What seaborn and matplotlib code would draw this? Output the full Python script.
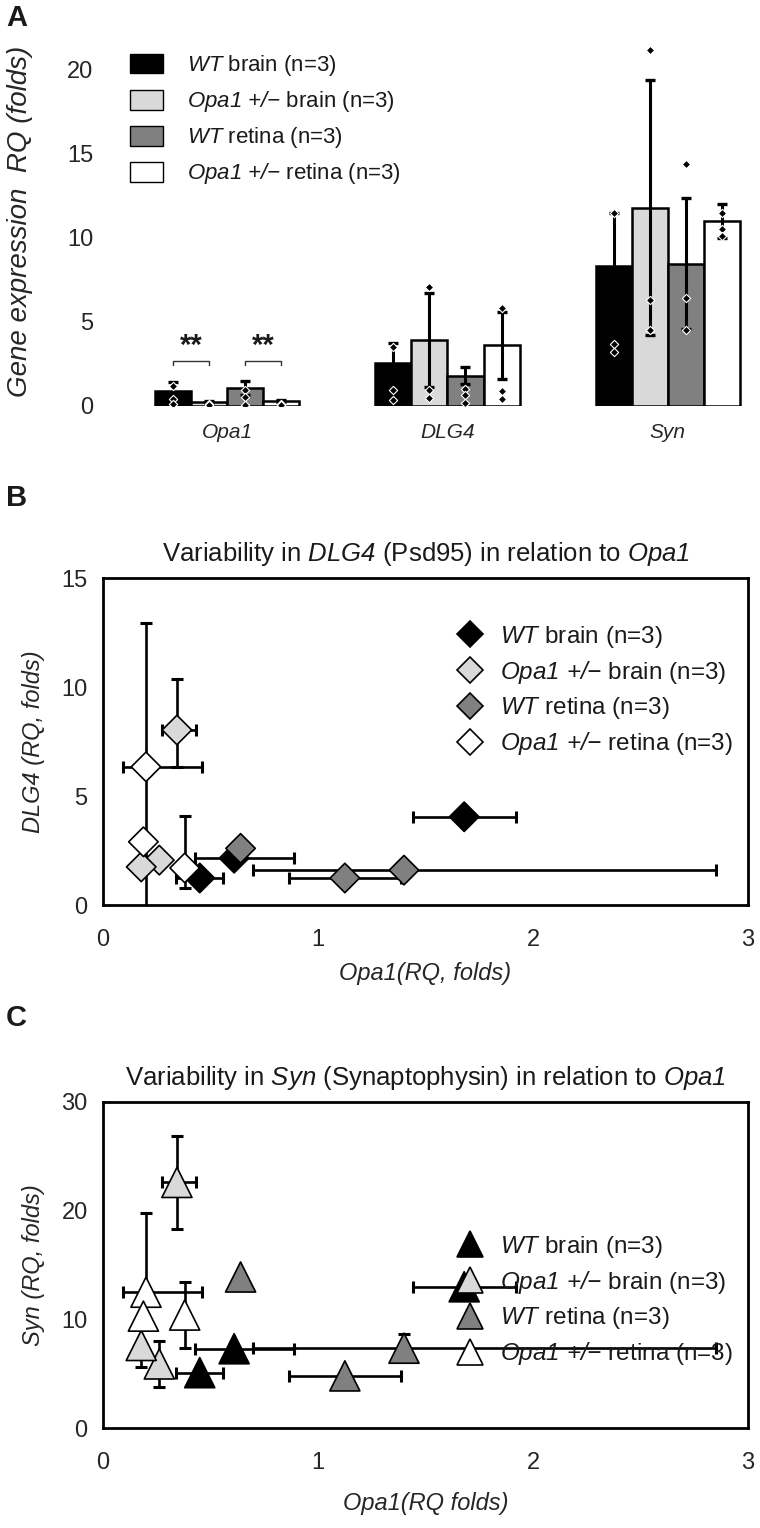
import numpy as np
import pandas as pd
import matplotlib
matplotlib.use("Agg")
import matplotlib.pyplot as plt
import seaborn as sns

# ---- data ----
genes = ["Opa1", "DLG4", "Syn"]
groups = ["WT brain", "Opa1 +/- brain", "WT retina", "Opa1 +/- retina"]
colors = ["#000000", "#d9d9d9", "#808080", "#ffffff"]
legend_labels = [r"$WT$ brain (n=3)", r"$Opa1\ {+}/{-}$ brain (n=3)",
                 r"$WT$ retina (n=3)", r"$Opa1\ {+}/{-}$ retina (n=3)"]

# panel A: mean and sd per group (Opa1, DLG4, Syn)
mean_wt_brain = [0.9, 2.55, 8.3]
mean_het_brain = [0.25, 3.9, 11.8]
mean_wt_retina = [1.07, 1.8, 8.45]
mean_het_retina = [0.3, 3.6, 11.0]
sd_wt_brain = [0.5, 1.2, 3.2]
sd_het_brain = [0.05, 2.8, 7.6]
sd_wt_retina = [0.4, 0.5, 3.9]
sd_het_retina = [0.05, 2.0, 1.0]
# individual animals shown as small diamonds
pts_wt_brain = [[1.2, 0.4, 0.1], [3.5, 0.95, 0.36], [11.5, 3.7, 3.2]]
pts_het_brain = [[0.1, 0.05, 0.05], [7.1, 0.95, 0.47], [21.2, 6.3, 4.5]]
pts_wt_retina = [[0.95, 0.55, 0.05], [1.0, 0.65, 0.18], [14.4, 6.4, 4.5]]
pts_het_retina = [[0.1, 0.05, 0.05], [5.8, 0.9, 0.4], [11.5, 10.5, 10.1]]

# panels B/C: per animal (WT brain x3, Opa1+/- brain x3, WT retina x3, Opa1+/- retina x3)
opa1_rq = [1.68, 0.61, 0.45, 0.344, 0.262, 0.178, 1.40, 1.125, 0.64, 0.20, 0.188, 0.38]
opa1_err_lo = [0.24, 0.18, 0.11, 0.07, 0, 0, 0.70, 0.26, 0, 0.107, 0, 0]
opa1_err_hi = [0.24, 0.28, 0.11, 0.09, 0, 0, 1.45, 0.26, 0, 0.26, 0, 0]
dlg4_rq = [4.05, 2.15, 1.24, 8.03, 2.06, 1.75, 1.6, 1.24, 2.6, 6.34, 2.9, 1.7]
dlg4_err_lo = [0, 0, 0, 1.7, 0, 0, 0, 0, 0, 6.6, 0, 0.9]
dlg4_err_hi = [0, 0, 0, 2.34, 0, 0, 0, 0, 0, 6.6, 0, 2.4]
syn_rq = [13.0, 7.3, 5.1, 22.6, 5.9, 7.6, 7.35, 4.8, 13.9, 12.5, 10.3, 10.4]
syn_err_lo = [0, 0, 0, 4.3, 2.1, 2.0, 0, 0, 0, 0, 0, 3.0]
syn_err_hi = [0, 0, 0, 4.3, 2.1, 0, 1.3, 0, 0, 7.3, 0, 3.0]

sns.set_style("white")
plt.rcParams["font.family"] = ["Liberation Sans", "DejaVu Sans"]
plt.rcParams["mathtext.fontset"] = "custom"
plt.rcParams["mathtext.rm"] = "Liberation Sans:italic"
plt.rcParams["mathtext.it"] = "Liberation Sans:italic"
plt.rcParams["text.color"] = "#1a1a1a"

fig = plt.figure(figsize=(7.6, 15.28), dpi=100)

# ---------------- panel A ----------------
axA = fig.add_axes([0.125, 0.7343, 0.855, 0.2421])
means = [mean_wt_brain, mean_het_brain, mean_wt_retina, mean_het_retina]
sds = [sd_wt_brain, sd_het_brain, sd_wt_retina, sd_het_retina]
pts = [pts_wt_brain, pts_het_brain, pts_wt_retina, pts_het_retina]
bar_df = pd.DataFrame({
    "gene": np.tile(genes, 4),
    "group": np.repeat(groups, 3),
    "mean": np.concatenate(means),
})
sns.barplot(data=bar_df, x="gene", y="mean", hue="group", hue_order=groups,
            palette=colors, saturation=1, width=0.655, edgecolor="black",
            linewidth=1.8, errorbar=None, ax=axA)
bars = list(axA.containers)
for i, cont in enumerate(bars):
    xs = [b.get_x() + b.get_width() / 2 for b in cont]
    axA.errorbar(xs, means[i], yerr=sds[i], fmt="none", ecolor="black",
                 elinewidth=2.2, capsize=3.5, capthick=2.4, zorder=3)
    for x, p in zip(xs, pts[i]):
        axA.scatter([x] * len(p), p, marker="D", s=18, c="black",
                    edgecolors="white", linewidths=0.8, zorder=4)

# significance brackets over Opa1
for a, b in [(0, 1), (2, 3)]:
    x1 = bars[a][0].get_x() + bars[a][0].get_width() / 2
    x2 = bars[b][0].get_x() + bars[b][0].get_width() / 2
    axA.plot([x1, x1, x2, x2], [2.45, 2.7, 2.7, 2.45], color="#333333", lw=1.0)
    axA.text((x1 + x2) / 2, 2.75, "**", ha="center", va="bottom",
             fontsize=21, fontweight="bold")

axA.set_xlim(-0.6, 2.35)
axA.set_ylim(0, 22)
axA.set_yticks([0, 5, 10, 15, 20])
axA.tick_params(axis="y", length=0, pad=1, labelsize=17)
axA.tick_params(axis="x", length=0, pad=12, labelsize=15)
for t in axA.get_xticklabels():
    t.set_fontstyle("italic")
for s in axA.spines.values():
    s.set_visible(False)
axA.set_xlabel("")
axA.set_ylabel("Gene expression  RQ (folds)", fontsize=20, fontstyle="italic")
axA.yaxis.set_label_coords(-0.095, 0.5)
sns.move_legend(axA, "upper left", bbox_to_anchor=(0.04, 0.978),
                frameon=False, labels=legend_labels, fontsize=16,
                handlelength=1.5, handleheight=1.0, labelspacing=0.5,
                handletextpad=1.08, borderaxespad=0, title=None)
for h in axA.get_legend().legend_handles:
    h.set_linewidth(1.0)

# ---------------- panels B and C ----------------
sc_df = pd.DataFrame({
    "group": np.repeat(groups, 3),
    "opa1": opa1_rq, "dlg4": dlg4_rq, "syn": syn_rq,
})


def scatter_panel(ax, ycol, ylo, yhi, marker, size, ylim, yticks, title,
                  ylabel, xlabel, leg_y, xlab_y):
    ax.errorbar(sc_df["opa1"], sc_df[ycol], xerr=[opa1_err_lo, opa1_err_hi],
                yerr=[ylo, yhi], fmt="none", ecolor="black", elinewidth=1.9,
                capsize=4.5, capthick=2.2, zorder=1)
    sns.scatterplot(data=sc_df, x="opa1", y=ycol, hue="group", hue_order=groups,
                    palette=colors, marker=marker, s=size, edgecolor="black",
                    linewidth=1.2, zorder=3, ax=ax)
    ax.set_xlim(0, 3)
    ax.set_ylim(*ylim)
    ax.set_xticks([0, 1, 2, 3])
    ax.set_yticks(yticks)
    ax.tick_params(axis="both", length=0, labelsize=17)
    ax.tick_params(axis="x", pad=17)
    ax.tick_params(axis="y", pad=11)
    for s in ax.spines.values():
        s.set_visible(True)
        s.set_linewidth(2.0)
        s.set_color("black")
    ax.set_title(title, fontsize=18.5, pad=12)
    ax.set_ylabel(ylabel, fontsize=17, fontstyle="italic")
    ax.set_xlabel(xlabel, fontsize=17, fontstyle="italic")
    ax.yaxis.set_label_coords(-0.09, 0.5)
    ax.xaxis.set_label_coords(0.5, xlab_y)
    sns.move_legend(ax, "upper right", bbox_to_anchor=(0.992, leg_y),
                    frameon=False, labels=legend_labels, fontsize=17.5,
                    markerscale=0.85, handlelength=1.6, handletextpad=0.45,
                    labelspacing=0.38, borderaxespad=0, title=None)


axB = fig.add_axes([0.1355, 0.4077, 0.8487, 0.214])
scatter_panel(axB, "dlg4", dlg4_err_lo, dlg4_err_hi, "D", 225, (0, 15),
              [0, 5, 10, 15],
              r"Variability in $DLG4$ (Psd95) in relation to $Opa1$",
              "DLG4 (RQ, folds)", "Opa1(RQ, folds)", 0.89, -0.175)

axC = fig.add_axes([0.1355, 0.0654, 0.8487, 0.2134])
scatter_panel(axC, "syn", syn_err_lo, syn_err_hi, "^", 470, (0, 30),
              [0, 10, 20, 30],
              r"Variability in $Syn$ (Synaptophysin) in relation to $Opa1$",
              "Syn (RQ, folds)", "Opa1(RQ folds)", 0.626, -0.197)

for lbl, y in [("A", 0.988), ("B", 0.674), ("C", 0.334)]:
    fig.text(0.008, y, lbl, fontsize=21, fontweight="bold", va="center")

fig.savefig("out.png", dpi=100)
